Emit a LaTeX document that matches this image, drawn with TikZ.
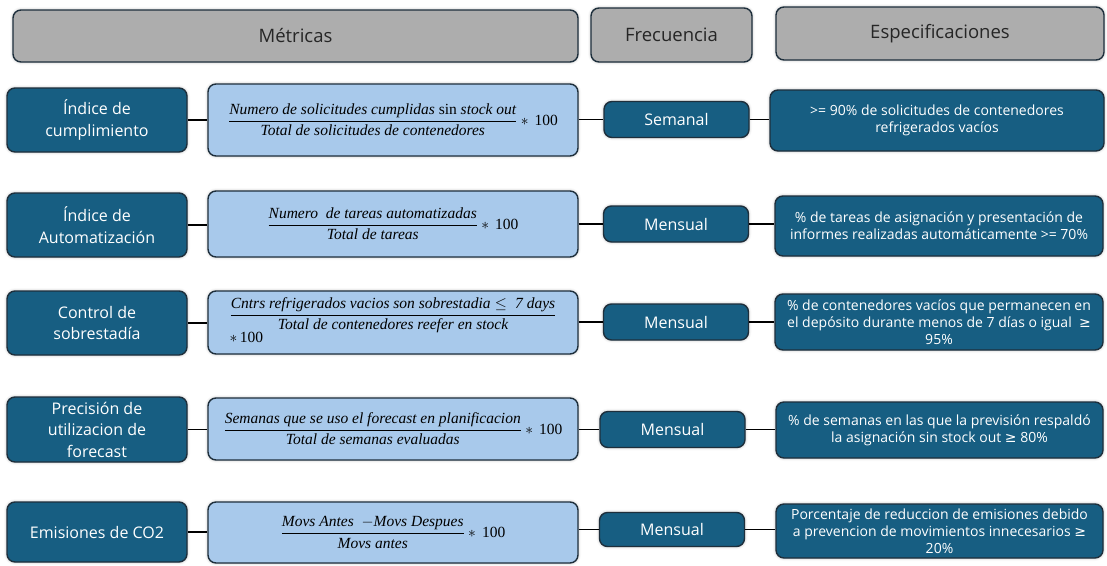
\documentclass[tikz,border=0pt]{standalone}
\usepackage{fix-cm}
\usepackage{amsmath}
\usepackage{fontspec}
\setmainfont{Open Sans}
\newfontfamily\symf{DejaVu Sans}
\newfontfamily\fser{Liberation Serif}
\usetikzlibrary{shadows.blur}
\definecolor{dblue}{HTML}{175E82}
\definecolor{lblue}{HTML}{A8C9EB}
\definecolor{hgray}{HTML}{ADADAD}
\definecolor{edgec}{HTML}{1E2F3C}
\newcommand{\gesym}{{\symf ≥}}
\newcommand{\ft}[1]{\mbox{\fser\itshape #1}}
\newcommand{\fu}[1]{{\upshape #1}}
\newcommand{\hund}{\mbox{\fser\,100}}
\begin{document}
\begin{tikzpicture}[x=1pt,y=-1pt,
  box/.style={draw=edgec, line width=1.4pt, rounded corners=8pt, align=center, inner sep=2pt,
    blur shadow={shadow xshift=0pt, shadow yshift=0pt, shadow blur radius=3pt, shadow opacity=30}},
  hdr/.style={box, fill=hgray, text=black!85, font=\fontsize{18.5}{22}\selectfont},
  met/.style={box, fill=dblue, text=white, font=\fontsize{16}{21.5}\selectfont, minimum width=180pt, minimum height=64pt},
  frm/.style={box, fill=lblue, text=black, font=\fontsize{15.5}{17}\selectfont, minimum width=370pt},
  frq/.style={box, fill=dblue, text=white, font=\fontsize{16}{19}\selectfont, minimum width=145pt, minimum height=36pt},
  spc/.style={box, fill=dblue, text=white, font=\fontsize{14}{17}\selectfont},
  link/.style={draw=black, line width=1.7pt}]
\useasboundingbox (0,0) rectangle (1107,565);

% headers
\node[hdr, minimum width=565pt, minimum height=52pt] (h1) at (295.5,36) {Métricas};
\node[hdr, minimum width=161pt, minimum height=54pt] (h2) at (671.5,35) {Frecuencia};
\node[hdr, minimum width=328pt, minimum height=53pt] (h3) at (940,33.5) {Especificaciones};

% row 1
\node[met] (l1) at (97,120) {Índice de\\cumplimiento};
\node[frm, minimum height=72pt] (f1) at (393,120)
  {$\dfrac{\ft{Numero de solicitudes cumplidas \fu{sin} stock out}}{\ft{Total de solicitudes de contenedores}}\ast\hund$};
\node[frq] (m1) at (676.5,119.5) {Semanal};
\node[spc, minimum width=334pt, minimum height=61pt] (s1) at (937,120.5)
  {>= 90\% de solicitudes de contenedores\\refrigerados vacíos};

% row 2
\node[met] (l2) at (97,225) {Índice de\\Automatización};
\node[frm, minimum height=66pt] (f2) at (393,224)
  {$\dfrac{\ft{Numero \ de tareas automatizadas}}{\ft{Total de tareas}}\ast\hund$};
\node[frq] (m2) at (676,224) {Mensual};
\node[spc, minimum width=328pt, minimum height=60pt] (s2) at (939,226)
  {\% de tareas de asignación y presentación de\\informes realizadas automáticamente >= 70\%};

% row 3
\node[met] (l3) at (97,323) {Control de\\sobrestadía};
\node[frm, minimum height=63pt] (f3) at (393,322.5)
  {\begin{tabular}{@{}l@{}}$\dfrac{\ft{Cntrs refrigerados vacios son sobrestadia} \le \ft{\ 7 days}}{\ft{Total de contenedores reefer en stock}}$\\[-2pt]$\ast\hund$\end{tabular}};
\node[frq] (m3) at (676,322) {Mensual};
\node[spc, minimum width=328pt, minimum height=56pt] (s3) at (939,322)
  {\% de contenedores vacíos que permanecen en\\el depósito durante menos de 7 días o igual \ \gesym\\95\%};

% row 4
\node[met, minimum height=65pt] (l4) at (97,429.5) {Precisión de\\utilizacion de\\forecast};
\node[frm, minimum height=62pt] (f4) at (393,429)
  {$\dfrac{\ft{Semanas que se uso el forecast en planificacion}}{\ft{Total de semanas evaluadas}}\ast\hund$};
\node[frq] (m4) at (672.5,429.5) {Mensual};
\node[spc, minimum width=327pt, minimum height=56pt] (s4) at (939.5,430)
  {\% de semanas en las que la previsión respaldó\\la asignación sin stock out \gesym\ 80\%};

% row 5
\node[met, minimum height=60pt] (l5) at (97,532) {Emisiones de CO2};
\node[frm, minimum height=61pt] (f5) at (393,532.5)
  {$\dfrac{\ft{Movs Antes \ {\upshape$-$}Movs Despues}}{\ft{Movs antes}}\ast\hund$};
\node[frq, minimum height=34pt] (m5) at (672,529.5) {Mensual};
\node[spc, minimum width=327pt, minimum height=54pt] (s5) at (939.5,531)
  {Porcentaje de reduccion de emisiones debido\\a prevencion de movimientos innecesarios \gesym\\20\%};

% connectors
\foreach \i in {1,...,5}{
  \draw[link] (l\i.east) -- (l\i.east -| f\i.west);
  \draw[link] (f\i.east |- m\i.west) -- (m\i.west);
  \draw[link] (m\i.east) -- (m\i.east -| s\i.west);
}
\end{tikzpicture}
\end{document}
